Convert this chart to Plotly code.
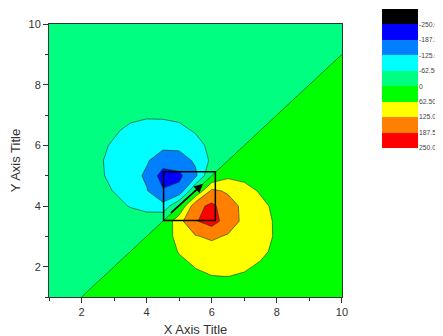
import plotly.graph_objects as go

# grid coordinates
x_grid = [1.0, 1.5, 2.0, 2.5, 3.0, 3.5, 4.0, 4.5, 5.0, 5.5, 6.0, 6.5, 7.0, 7.5, 8.0, 8.5, 9.0, 9.5, 10.0]
y_grid = [1.0, 1.5, 2.0, 2.5, 3.0, 3.5, 4.0, 4.5, 5.0, 5.5, 6.0, 6.5, 7.0, 7.5, 8.0, 8.5, 9.0, 9.5, 10.0]

# z values, one row per y (bottom to top)
z_rows = [
    [-6.6, -3.5, 0, 4.1, 9.0, 14.7, 21.5, 27.9, 35.2, 41.6, 46.4, 49.2, 50.3, 50.2, 49.8, 49.6, 49.5, 49.8, 50.4],
    [-10.3, -7.4, -4.1, 0, 5.2, 12.0, 19.3, 28.9, 39.1, 48.2, 54.2, 56.5, 55.7, 53.5, 51.4, 49.8, 48.9, 48.6, 48.8],
    [-14.4, -11.9, -9.0, -5.2, 0, 7.0, 16.9, 30.2, 45.9, 64.4, 74.2, 74.1, 66.2, 58.6, 53.5, 50.2, 48.1, 47.2, 47.1],
    [-18.8, -16.9, -14.7, -12.0, -7.0, 0, 11.7, 30.3, 66.2, 91.2, 100.8, 97.7, 85.9, 68.6, 55.7, 50.3, 47.1, 45.5, 44.9],
    [-23.5, -22.4, -21.5, -19.3, -16.9, -11.7, 0, 24.2, 87.9, 121.1, 134.9, 118.9, 101.6, 79.8, 56.5, 49.2, 45.3, 43.3, 42.5],
    [-28.1, -28.1, -27.9, -28.9, -30.2, -30.3, -24.2, 0, 106.1, 182.0, 215.2, 157.3, 110.3, 83.7, 54.2, 46.4, 42.3, 40.4, 39.6],
    [-32.7, -33.2, -35.2, -39.1, -45.9, -66.2, -87.9, -106.1, 0, 170.1, 200.1, 155.7, 107.2, 77.4, 48.2, 41.6, 38.2, 36.8, 36.4],
    [-36.8, -38.2, -41.6, -48.2, -64.4, -91.2, -121.1, -182.0, -170.1, 0, 138.9, 115.1, 84.9, 56.0, 39.1, 35.2, 33.2, 32.7, 32.8],
    [-40.4, -42.3, -46.4, -54.2, -74.2, -100.8, -134.9, -215.2, -200.1, -138.9, 0, 50.0, 45.0, 30.2, 28.9, 27.9, 28.1, 28.1, 28.8],
    [-43.3, -45.3, -49.2, -56.5, -74.1, -97.7, -118.9, -157.3, -155.7, -115.1, -50.0, 0, 11.7, 16.9, 19.3, 21.5, 22.4, 23.5, 24.7],
    [-45.5, -47.1, -50.3, -55.7, -66.2, -85.9, -101.6, -110.3, -107.2, -84.9, -45.0, -11.7, 0, 7.0, 12.0, 14.7, 16.9, 18.8, 20.7],
    [-47.2, -48.1, -50.2, -53.5, -58.6, -68.6, -79.8, -83.7, -77.4, -56.0, -30.2, -16.9, -7.0, 0, 5.2, 9.0, 11.9, 14.4, 16.7],
    [-48.6, -48.9, -49.8, -51.4, -53.5, -55.7, -56.5, -54.2, -48.2, -39.1, -28.9, -19.3, -12.0, -5.2, 0, 4.1, 7.4, 10.3, 13.0],
    [-49.8, -49.5, -49.6, -49.8, -50.2, -50.3, -49.2, -46.4, -41.6, -35.2, -27.9, -21.5, -14.7, -9.0, -4.1, 0, 3.5, 6.6, 9.4],
    [-51.0, -50.1, -49.5, -48.9, -48.1, -47.1, -45.3, -42.3, -38.2, -33.2, -28.1, -22.4, -16.9, -11.9, -7.4, -3.5, 0, 3.2, 6.1],
    [-52.2, -51.0, -49.8, -48.6, -47.2, -45.5, -43.3, -40.4, -36.8, -32.7, -28.1, -23.5, -18.8, -14.4, -10.3, -6.6, -3.2, 0, 3.0],
    [-53.6, -52.0, -50.4, -48.8, -47.1, -44.9, -42.5, -39.6, -36.4, -32.8, -28.8, -24.7, -20.7, -16.7, -13.0, -9.4, -6.1, -3.0, 0],
    [-55.0, -53.3, -51.4, -49.5, -47.4, -45.1, -42.6, -39.8, -36.7, -33.4, -29.9, -26.2, -22.5, -19.0, -15.4, -12.1, -8.8, -5.8, -2.9],
    [-56.5, -54.5, -52.5, -50.4, -48.2, -45.8, -43.3, -40.6, -37.7, -34.5, -31.3, -27.9, -24.5, -21.1, -17.8, -14.6, -11.5, -8.4, -5.6],
]

# contour levels and legend
level_start = -250.0
level_end = 250.0
level_step = 62.5
band_colors = ["#000000", "#0000ff", "#0080ff", "#00ffff", "#00ff80",
               "#00ff00", "#ffff00", "#ff8000", "#ff0000"]
band_labels = ["-250.0", "-187.5", "-125.0", "-62.50", "0",
               "62.50", "125.0", "187.5", "250.0"]
band_index = [0, 1, 2, 3, 4, 5, 6, 7, 8]

# annotation box and arrow (data coordinates)
box_x = [4.52, 6.11]
box_y = [3.52, 5.13]
arrow_tail = [4.70, 3.73]
arrow_head = [5.73, 4.73]

FONT = "Liberation Sans, Arial, sans-serif"

fill_colors = band_colors + [band_colors[-1]]
n = len(fill_colors) - 1
contour_scale = [[i / n, c] for i, c in enumerate(fill_colors)]

fig = go.Figure()
fig.add_trace(go.Contour(
    x=x_grid, y=y_grid, z=z_rows,
    autocontour=False,
    contours=dict(start=level_start, end=level_end, size=level_step,
                  coloring="fill", showlines=True),
    colorscale=contour_scale,
    line=dict(color="rgba(20,50,20,0.75)", width=0.8, smoothing=0),
    showscale=False,
    hoverinfo="skip",
))

m = len(band_colors) - 1
legend_scale = [[i / m, c] for i, c in enumerate(band_colors)]
fig.add_trace(go.Heatmap(
    x=[0], y=band_index, z=[[i] for i in band_index],
    colorscale=legend_scale, zmin=0, zmax=m, showscale=False,
    xaxis="x2", yaxis="y2", hoverinfo="skip",
))

fig.add_shape(type="rect", xref="x", yref="y",
              x0=box_x[0], x1=box_x[1], y0=box_y[0], y1=box_y[1],
              line=dict(color="black", width=1.5), fillcolor="rgba(0,0,0,0)")
fig.add_annotation(x=arrow_head[0], y=arrow_head[1], ax=arrow_tail[0], ay=arrow_tail[1],
                   xref="x", yref="y", axref="x", ayref="y", text="",
                   showarrow=True, arrowhead=2, arrowsize=1.1, arrowwidth=1.6,
                   arrowcolor="black")

axis_common = dict(
    showgrid=False, zeroline=False, showline=True, linecolor="#333333",
    linewidth=1, mirror=True, ticks="outside", ticklen=5, tickwidth=1,
    tickcolor="#333333", tickmode="linear", tick0=2, dtick=2,
    tickfont=dict(family=FONT, size=11, color="#333333"),
    minor=dict(ticks="outside", ticklen=3, tickwidth=1, tickcolor="#333333",
               tick0=1, dtick=1),
    automargin=False,
)

# the page body adds an 8px offset, so the figure is laid out 8px up/left
fig.update_layout(
    width=436, height=329,
    margin=dict(l=41, r=23, t=1, b=40),
    paper_bgcolor="white", plot_bgcolor="white",
    font=dict(family=FONT, color="#333333"),
    xaxis=dict(domain=[0, 0.7876], range=[1, 10],
               title=dict(text="X Axis Title", font=dict(family=FONT, size=13, color="#333333"),
                          standoff=7),
               **axis_common),
    yaxis=dict(domain=[0, 0.9479], range=[1, 10],
               title=dict(text="Y Axis Title", font=dict(family=FONT, size=13, color="#333333"),
                          standoff=4),
               **axis_common),
    xaxis2=dict(domain=[0.8952, 0.9919], range=[-0.5, 0.5], visible=False, anchor="y2"),
    yaxis2=dict(domain=[0.5174, 1.0], range=[8.5, -0.5], anchor="x2", side="right",
                tickmode="array", tickvals=[i + 0.5 for i in band_index], ticktext=band_labels,
                ticks="", showline=False, showgrid=False, zeroline=False, automargin=False,
                tickfont=dict(family=FONT, size=6.8, color="#444444")),
    showlegend=False,
)

fig.write_html("out.html")
